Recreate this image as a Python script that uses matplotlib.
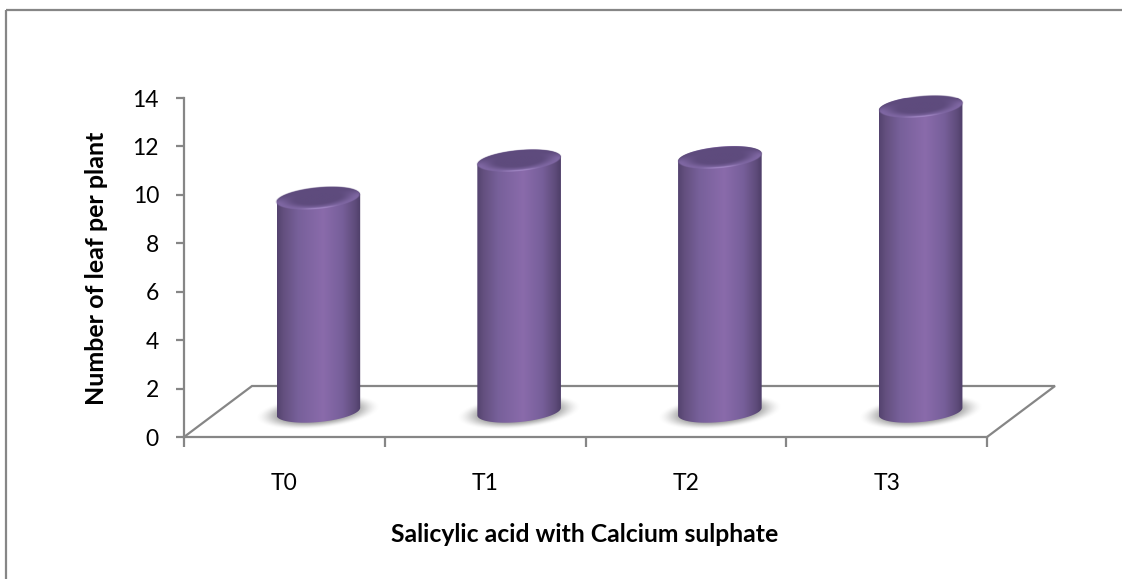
import matplotlib
matplotlib.use("Agg")

import matplotlib.pyplot as plt
import numpy as np

from matplotlib.colors import LinearSegmentedColormap
from matplotlib.lines import Line2D
from matplotlib.patches import Polygon


# ============================================================
# DATA
# ============================================================

categories = ["T0", "T1", "T2", "T3"]
leaf_counts = [8.8, 10.35, 10.5, 12.6]
y_ticks = [0, 2, 4, 6, 8, 10, 12, 14]

x_title = "Salicylic acid with Calcium sulphate"
y_title = "Number of leaf per plant"


# ============================================================
# SETTINGS (pixels of the 1122x579 figure)
# ============================================================

W, H = 1122, 579
AX_LEFT, AX_RIGHT = 184, 987
AX_TOP, AX_BOTTOM = 98, 437

PX_X = (AX_RIGHT - AX_LEFT) / len(categories)
PX_Y = (AX_BOTTOM - AX_TOP) / y_ticks[-1]

# floor depth
DEPTH_X = 68
DEPTH_Y = 51

# cylinder shape
RX = 42
RY = 10.5
TILT = np.deg2rad(5.5)

GREY = "#868686"
TEXT = "#000000"

plt.rcParams["font.family"] = ["Lato", "DejaVu Sans"]


# ============================================================
# HELPERS
# ============================================================

def to_data(dx, dy):
    return dx / PX_X, dy / PX_Y


def ellipse_offsets(rx, ry, start=0, stop=2 * np.pi, n=120):
    t = np.linspace(start, stop, n)
    ex = rx * np.cos(t)
    ey = ry * np.sin(t)
    px = ex * np.cos(TILT) - ey * np.sin(TILT)
    py = ex * np.sin(TILT) + ey * np.cos(TILT)
    return px, py


def ellipse_coords(rx, ry, half_w, half_h, nx=200, ny=100):
    # pixel grid around the centre, returned as normalised ellipse coords
    gx, gy = np.meshgrid(
        np.linspace(-half_w, half_w, nx),
        np.linspace(half_h, -half_h, ny),
    )
    u = (gx * np.cos(TILT) + gy * np.sin(TILT)) / rx
    v = (-gx * np.sin(TILT) + gy * np.cos(TILT)) / ry
    return u, v


def smooth(a, b, x):
    s = np.clip((x - a) / (b - a), 0, 1)
    return s * s * (3 - 2 * s)


side_cmap = LinearSegmentedColormap.from_list(
    "side",
    [
        (0.00, "#54436f"),
        (0.08, "#64507f"),
        (0.25, "#77609a"),
        (0.55, "#8a6bab"),
        (0.78, "#775f9a"),
        (0.93, "#5f4c7b"),
        (1.00, "#4d3e68"),
    ],
)


def draw_shadow(ax, cx, base):
    half_w, half_h = 68, 24
    u, v = ellipse_coords(63, 17, half_w, half_h)
    r = np.sqrt(u ** 2 + v ** 2)
    alpha = (1 - smooth(0.45, 1.0, r)) * 0.8

    img = np.zeros(r.shape + (4,))
    img[..., :3] = 0.45
    img[..., 3] = alpha

    dx, dy = to_data(half_w, half_h)
    ax.imshow(
        img,
        extent=[cx - dx, cx + dx, base - dy, base + dy],
        aspect="auto",
        interpolation="bilinear",
        zorder=3,
        clip_on=False,
    )


def draw_cylinder(ax, cx, base, value):
    top = base + value

    # ----------------------------------------------------
    # SIDE
    # ----------------------------------------------------
    tx, ty = ellipse_offsets(RX, RY, 0, np.pi)
    bx, by = ellipse_offsets(RX, RY, np.pi, 2 * np.pi)

    xs = np.concatenate([cx + tx / PX_X, cx + bx / PX_X])
    ys = np.concatenate([top + ty / PX_Y, base + by / PX_Y])

    outline = Polygon(
        np.column_stack([xs, ys]),
        closed=True,
        transform=ax.transData,
        facecolor="none",
        edgecolor="none",
        clip_on=False,
    )
    ax.add_patch(outline)

    dx = RX * np.cos(TILT) / PX_X
    side = ax.imshow(
        np.linspace(0, 1, 256).reshape(1, -1),
        extent=[cx - dx, cx + dx, ys.min(), ys.max()],
        cmap=side_cmap,
        aspect="auto",
        interpolation="bilinear",
        zorder=4,
    )
    side.set_clip_path(outline)

    # ----------------------------------------------------
    # TOP CAP
    # ----------------------------------------------------
    half_w, half_h = RX + 2, RY + 6
    u, v = ellipse_coords(RX, RY, half_w, half_h)
    r = np.sqrt(u ** 2 + v ** 2)

    dark = np.array([0x5e, 0x4b, 0x7d]) / 255
    rim = np.array([0x80, 0x68, 0xa4]) / 255
    glow = np.array([0xa8, 0x8e, 0xcb]) / 255

    edge = smooth(0.5, 1.0, r) * smooth(0.6, -0.2, v)
    spark = smooth(0.82, 0.98, r) * smooth(-0.6, -0.95, v) * smooth(0.6, 0.1, np.abs(u))

    img = np.zeros(r.shape + (4,))
    for c in range(3):
        img[..., c] = dark[c] + (rim[c] - dark[c]) * edge
        img[..., c] += (glow[c] - img[..., c]) * spark
    img[..., 3] = 1 - smooth(0.97, 1.03, r)

    dx, dy = to_data(half_w, half_h)
    ax.imshow(
        img,
        extent=[cx - dx, cx + dx, top - dy, top + dy],
        aspect="auto",
        interpolation="bilinear",
        zorder=5,
        clip_on=False,
    )


# ============================================================
# MAIN
# ============================================================

if __name__ == "__main__":

    fig = plt.figure(figsize=(W / 100, H / 100), dpi=100, facecolor="white")

    ax = fig.add_axes([
        AX_LEFT / W,
        1 - AX_BOTTOM / H,
        (AX_RIGHT - AX_LEFT) / W,
        (AX_BOTTOM - AX_TOP) / H,
    ])
    ax.patch.set_alpha(0)

    # --------------------------------------------------------
    # OUTER FRAME (left and top only reach the picture)
    # --------------------------------------------------------
    frame_kw = dict(
        transform=fig.transFigure,
        color=GREY,
        linewidth=1.6,
        solid_capstyle="butt",
    )
    fig.add_artist(Line2D([6 / W, 6 / W], [0, 1 - 10 / H], **frame_kw))
    fig.add_artist(Line2D([6 / W, 1], [1 - 10 / H, 1 - 10 / H], **frame_kw))

    # --------------------------------------------------------
    # FLOOR
    # --------------------------------------------------------
    n = len(categories)
    depth_x, depth_y = to_data(DEPTH_X, DEPTH_Y)

    ax.plot(
        [0, depth_x, n + depth_x, n],
        [0, depth_y, depth_y, 0],
        color=GREY,
        linewidth=1.6,
        clip_on=False,
        zorder=2,
        solid_joinstyle="miter",
    )

    # --------------------------------------------------------
    # CYLINDERS
    # --------------------------------------------------------
    base_y = depth_y / 2

    for i, value in enumerate(leaf_counts):
        cx = i + 0.5 + depth_x / 2
        draw_shadow(ax, cx, base_y)
        draw_cylinder(ax, cx, base_y, value)

    # --------------------------------------------------------
    # AXES
    # --------------------------------------------------------
    ax.set_xlim(0, n)
    ax.set_ylim(y_ticks[0], y_ticks[-1])

    for name in ["top", "right"]:
        ax.spines[name].set_visible(False)
    for name in ["left", "bottom"]:
        ax.spines[name].set_color(GREY)
        ax.spines[name].set_linewidth(1.6)

    ax.set_yticks(y_ticks)
    ax.set_xticks(np.arange(n + 1))
    ax.set_xticklabels([])
    ax.set_xticks(np.arange(n) + 0.5, labels=categories, minor=True)

    ax.tick_params(axis="y", length=6, width=1.6, color=GREY,
                   labelsize=16.5, labelcolor=TEXT, pad=12)
    ax.tick_params(axis="x", which="major", length=7, width=1.6, color=GREY)
    ax.tick_params(axis="x", which="minor", length=0,
                   labelsize=16.5, labelcolor=TEXT, pad=26)

    ax.set_xlabel(x_title, fontsize=17.8, fontweight="bold", color=TEXT, va="center")
    ax.xaxis.set_label_coords(0.499, (AX_BOTTOM - 535) / (AX_BOTTOM - AX_TOP))

    ax.set_ylabel(y_title, fontsize=18, fontweight="bold", color=TEXT, va="center")
    ax.yaxis.set_label_coords((97 - AX_LEFT) / (AX_RIGHT - AX_LEFT), (AX_BOTTOM - 268) / (AX_BOTTOM - AX_TOP))

    fig.savefig("out.png", dpi=100)
